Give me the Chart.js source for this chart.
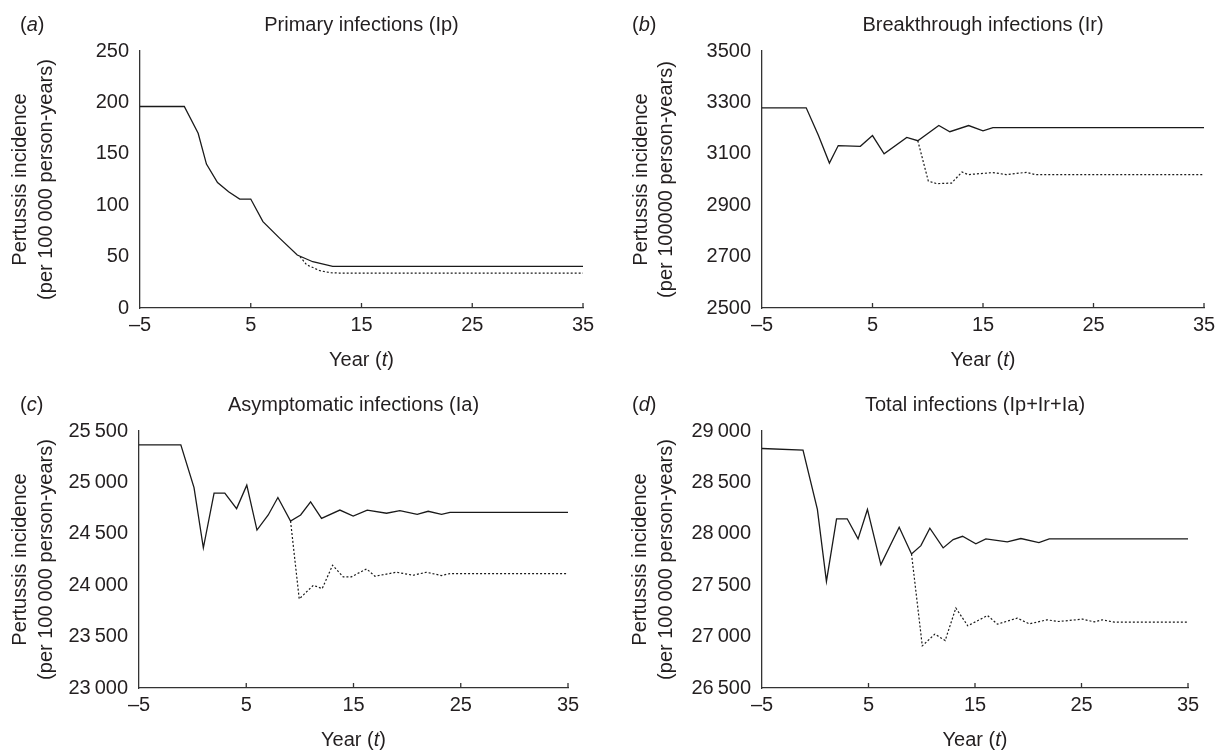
<!DOCTYPE html>
<html>
<head>
<meta charset="utf-8">
<script src="https://cdn.jsdelivr.net/npm/chart.js@4.4.1/dist/chart.umd.min.js"></script>
<style>
  body { margin: 0; background: #fff; }
  #wrap { position: relative; width: 1217px; height: 750px; }
  canvas { position: absolute; }
</style>
</head>
<body>
<div id="wrap">
  <canvas id="panelA" width="608" height="375" style="left:0;top:0"></canvas>
  <canvas id="panelB" width="609" height="375" style="left:608px;top:0"></canvas>
  <canvas id="panelC" width="608" height="375" style="left:0;top:375px"></canvas>
  <canvas id="panelD" width="609" height="375" style="left:608px;top:375px"></canvas>
</div>
<script>
// (a) primary infections
const aSolidX = [-5, -1, 0.25, 1, 2, 3, 4, 5, 6.1, 7.6, 9.2, 10.6, 12.4, 35];
const aSolidY = [196, 196, 170, 140, 122, 113, 106, 106, 84, 68, 51.5, 45, 40.5, 40.5];
const aDashX = [9.45, 10.05, 11.25, 12.2, 13, 35];
const aDashY = [50, 42, 36.3, 34.3, 34, 34];

// (b) breakthrough infections
const bSolidX = [-5, -1, 0.1, 1.1, 1.9, 3.9, 5, 6.05, 8.1, 9.1, 11, 12, 13.7, 15, 15.9, 35];
const bSolidY = [3279, 3279, 3172, 3064, 3132, 3129, 3171, 3100, 3164, 3151, 3210, 3186, 3210, 3189, 3202, 3202];
const bDashX = [9.1, 10.05, 10.8, 12.15, 13.1, 13.65, 15.9, 17.1, 18.95, 19.7, 35];
const bDashY = [3151, 2994, 2984, 2986, 3029, 3019, 3027, 3019, 3028, 3019, 3019];

// (c) asymptomatic infections
const cSolidX = [-5, -1.1, 0.13, 1, 2, 3, 4.1, 5.05, 6, 7.05, 7.95, 9.13, 10.07, 11, 12.02, 13.73, 14.97, 16.28, 18.08, 19.32, 20.94, 21.96, 23.21, 24, 35];
const cSolidY = [25365, 25365, 24950, 24364, 24895, 24895, 24745, 24973, 24536, 24683, 24853, 24624, 24683, 24810, 24650, 24731, 24673, 24731, 24700, 24725, 24690, 24719, 24690, 24709, 24709];
const cDashX = [9.13, 9.94, 11.25, 12.08, 13.05, 14.04, 14.8, 16.22, 17, 19, 20.56, 21.8, 23.2, 24, 35];
const cDashY = [24624, 23866, 23999, 23967, 24194, 24081, 24081, 24159, 24087, 24126, 24097, 24126, 24094, 24113, 24113];

// (d) total infections
const dSolidX = [-5, -1.15, 0.2, 1.05, 2, 3, 4.02, 4.9, 6.16, 7.88, 9.04, 9.92, 10.76, 12.01, 12.95, 13.83, 15.08, 16.02, 18.03, 19.31, 21, 21.97, 35];
const dSolidY = [28830, 28815, 28237, 27537, 28146, 28146, 27951, 28237, 27700, 28064, 27804, 27885, 28054, 27863, 27944, 27976, 27902, 27951, 27922, 27954, 27915, 27951, 27951];
const dDashX = [9.04, 10.05, 11.23, 12.2, 13.2, 14.32, 16.18, 17.1, 18.97, 20.1, 21.76, 22.88, 25.1, 26.2, 26.95, 28.1, 35];
const dDashY = [27804, 26910, 27024, 26962, 27278, 27105, 27205, 27121, 27180, 27124, 27163, 27147, 27170, 27143, 27163, 27140, 27141];

const xTicks = [-5, 5, 15, 25, 35];
const FONT = "'Liberation Sans Narrow', 'Liberation Sans', Arial, sans-serif";
const INK = '#231f20';

Chart.defaults.font.family = FONT;
Chart.defaults.font.size = 20;
Chart.defaults.color = INK;

function pts(xs, ys) {
    return xs.map((x, i) => ({ x: x, y: ys[i] }));
}

// draws text pieces side by side, some in italic
function drawParts(ctx, parts, x, y, align) {
    let total = 0;
    parts.forEach(p => {
        ctx.font = (p[1] ? 'italic ' : '') + '20px ' + FONT;
        total += ctx.measureText(p[0]).width;
    });
    let cx = align === 'center' ? x - total / 2 : x;
    ctx.textAlign = 'left';
    parts.forEach(p => {
        ctx.font = (p[1] ? 'italic ' : '') + '20px ' + FONT;
        ctx.fillText(p[0], cx, y);
        cx += ctx.measureText(p[0]).width;
    });
}

const panelDecor = {
    id: 'panelDecor',
    afterDraw(chart, args, opts) {
        const ctx = chart.ctx;
        const ca = chart.chartArea;
        const mid = (ca.left + ca.right) / 2;
        ctx.save();
        ctx.fillStyle = INK;
        ctx.textBaseline = 'middle';
        ctx.font = '20px ' + FONT;
        ctx.textAlign = 'center';
        ctx.fillText(opts.title, mid, ca.top - 26);
        drawParts(ctx, [['(', false], [opts.letter, true], [')', false]], opts.letterX, ca.top - 26, 'left');
        drawParts(ctx, [['Year (', false], ['t', true], [')', false]], mid, ca.bottom + 52, 'center');
        // short inward ticks on the x axis
        ctx.strokeStyle = '#333';
        ctx.lineWidth = 1.3;
        xTicks.slice(1).forEach(v => {
            const px = chart.scales.x.getPixelForValue(v);
            ctx.beginPath();
            ctx.moveTo(px, ca.bottom);
            ctx.lineTo(px, ca.bottom - 5);
            ctx.stroke();
        });
        ctx.restore();
    }
};

function fmtThin(v) {
    return v >= 10000 ? Math.floor(v / 1000) + '\u2009' + String(v % 1000).padStart(3, '0') : String(v);
}

function gerarPainel(canvasId, p) {
    new Chart(document.getElementById(canvasId), {
        type: 'line',
        data: {
            datasets: [{
                data: pts(p.solidX, p.solidY),
                borderColor: '#1a1a1a',
                borderWidth: 1.3,
                pointRadius: 0,
                tension: 0
            }, {
                data: pts(p.dashX, p.dashY),
                borderColor: '#1a1a1a',
                borderWidth: 1.2,
                borderDash: [2, 2],
                pointRadius: 0,
                tension: 0
            }]
        },
        options: {
            responsive: false,
            animation: false,
            layout: { padding: { left: 0, top: p.top, right: p.right, bottom: 0 } },
            plugins: {
                legend: { display: false },
                tooltip: { enabled: false },
                panelDecor: { title: p.title, letter: p.letter, letterX: p.letterX }
            },
            scales: {
                x: {
                    type: 'linear',
                    min: -5, max: 35,
                    afterBuildTicks: s => { s.ticks = xTicks.map(v => ({ value: v })); },
                    ticks: {
                        padding: 5,
                        maxRotation: 0,
                        callback: v => v < 0 ? '\u2013' + Math.abs(v) : String(v)
                    },
                    grid: { display: false, drawTicks: false },
                    border: { display: true, color: '#333', width: 1.3 },
                    afterFit: s => { s.height = p.xHeight; s.paddingLeft = 0; s.paddingRight = 0; }
                },
                y: {
                    min: p.yMin, max: p.yMax,
                    ticks: { stepSize: p.yStep, padding: 11, callback: p.thin ? fmtThin : (v => String(v)) },
                    grid: { display: false, drawTicks: false },
                    border: { display: true, color: '#333', width: 1.3 },
                    title: {
                        display: true,
                        text: ['Pertussis incidence', p.yLine2],
                        padding: { top: p.titlePad, bottom: 0 },
                        font: { size: 20, lineHeight: 1.28 }
                    },
                    afterFit: s => { s.width = p.yWidth; s.paddingTop = 0; s.paddingBottom = 0; }
                }
            }
        },
        plugins: [panelDecor]
    });
}

gerarPainel('panelA', {
    solidX: aSolidX, solidY: aSolidY, dashX: aDashX, dashY: aDashY,
    title: 'Primary infections (Ip)', letter: 'a', letterX: 20,
    yMin: 0, yMax: 250, yStep: 50, thin: false,
    yLine2: '(per 100\u2009000 person-years)',
    top: 51, right: 25, yWidth: 140, xHeight: 67, titlePad: 8
});
gerarPainel('panelB', {
    solidX: bSolidX, solidY: bSolidY, dashX: bDashX, dashY: bDashY,
    title: 'Breakthrough infections (Ir)', letter: 'b', letterX: 24,
    yMin: 2500, yMax: 3500, yStep: 200, thin: false,
    yLine2: '(per 100000 person-years)',
    top: 51, right: 13, yWidth: 154, xHeight: 67, titlePad: 20.5
});
gerarPainel('panelC', {
    solidX: cSolidX, solidY: cSolidY, dashX: cDashX, dashY: cDashY,
    title: 'Asymptomatic infections (Ia)', letter: 'c', letterX: 20,
    yMin: 23000, yMax: 25500, yStep: 500, thin: true,
    yLine2: '(per 100\u2009000 person-years)',
    top: 56, right: 40, yWidth: 139, xHeight: 62, titlePad: 8
});
gerarPainel('panelD', {
    solidX: dSolidX, solidY: dSolidY, dashX: dDashX, dashY: dDashY,
    title: 'Total infections (Ip+Ir+Ia)', letter: 'd', letterX: 24,
    yMin: 26500, yMax: 29000, yStep: 500, thin: true,
    yLine2: '(per 100\u2009000 person-years)',
    top: 56, right: 29, yWidth: 154, xHeight: 62, titlePad: 20
});
</script>
</body>
</html>
